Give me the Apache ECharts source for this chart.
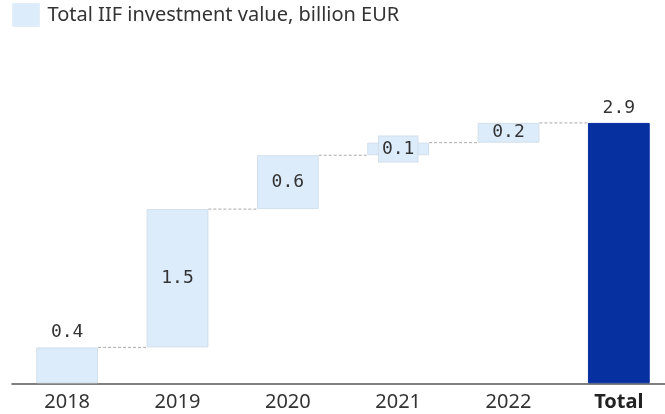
<!DOCTYPE html>
<html><head><meta charset="utf-8">
<script src="https://cdn.jsdelivr.net/npm/echarts@6/dist/echarts.min.js"></script>
<style>html,body{margin:0;padding:0;background:#fff;overflow:hidden}#c{width:674px;height:414px}</style>
</head><body><div id="c"></div>
<script>
const categories = ['2018', '2019', '2020', '2021', '2022', 'Total'];
const increments = [0.40, 1.54, 0.60, 0.14, 0.22];
const totalValue = 2.9;
const seriesName = 'Total IIF investment value, billion EUR';

const lightBlue = '#dcecfb';
const darkBlue = '#062f9f';

// Build waterfall base/value arrays from the data
const bases = [];
const values = [];
let cum = 0;
increments.forEach(v => { bases.push(cum); values.push(v); cum += v; });
bases.push(0); values.push(totalValue);
const cumulative = [];
cum = 0;
increments.forEach(v => { cum += v; cumulative.push(cum); });

const aboveIdx = [0, 5];
const chart = echarts.init(document.getElementById('c'));
chart.setOption({
  animation: false,
  legend: {
    data: [seriesName], left: 7, top: -2, itemWidth: 27, itemHeight: 23, icon: 'rect',
    itemStyle: { color: lightBlue, borderColor: '#e3eef8', borderWidth: 1 },
    textStyle: { fontFamily: 'Noto Sans', fontSize: 20, color: '#333', padding: [2, 0, 0, 3] }
  },
  grid: { left: 12, right: 0, top: 87, bottom: 30.7 },
  xAxis: {
    type: 'category', data: categories,
    axisTick: { show: false },
    axisLine: { lineStyle: { color: '#555', width: 1.5 } },
    axisLabel: {
      interval: 0,
      margin: 9, fontFamily: 'Noto Sans', fontSize: 20, color: '#333',
      formatter: v => v === 'Total' ? '{b|' + v + '}' : v,
      rich: { b: { fontWeight: 'bold', fontFamily: 'Noto Sans', fontSize: 20, color: '#222' } }
    }
  },
  yAxis: { type: 'value', min: 0, max: 3.3, show: false, splitLine: { show: false } },
  series: [
    {
      type: 'bar', stack: 'w', data: bases, barWidth: '56%',
      itemStyle: { color: 'transparent' }, silent: true
    },
    {
      name: seriesName, type: 'bar', stack: 'w', barWidth: '56%',
      itemStyle: { color: lightBlue, borderColor: '#d2dfea', borderWidth: 1 },
      data: values.map((v, i) => {
        const above = aboveIdx.includes(i);
        const small = !above && v < 0.2;
        const item = {
          value: v,
          label: {
            show: true,
            position: above ? 'top' : 'inside',
            distance: 6,
            formatter: p => p.value.toFixed(1),
            fontFamily: 'DejaVu Sans Mono', fontSize: 18, color: '#333',
            backgroundColor: small ? lightBlue : 'transparent',
            borderColor: small ? '#d2dfea' : 'transparent',
            borderWidth: small ? 1 : 0,
            padding: small ? [4, 3, 3, 3] : 0
          }
        };
        if (i === 5) item.itemStyle = { color: darkBlue, borderColor: darkBlue };
        return item;
      })
    },
    {
      type: 'custom', silent: true, z: 1,
      data: cumulative.map((c, i) => [i, c]),
      renderItem: (params, api) => {
        const i = api.value(0);
        const y = api.value(1);
        const w = api.size([1, 0])[0] * 0.56;
        const p1 = api.coord([i, y]);
        const p2 = api.coord([i + 1, y]);
        return {
          type: 'line',
          shape: { x1: p1[0] + w / 2, y1: p1[1], x2: p2[0] - w / 2, y2: p2[1] },
          style: { stroke: '#aaa', lineWidth: 1, lineDash: [3, 2] }
        };
      }
    }
  ]
});
</script></body></html>
